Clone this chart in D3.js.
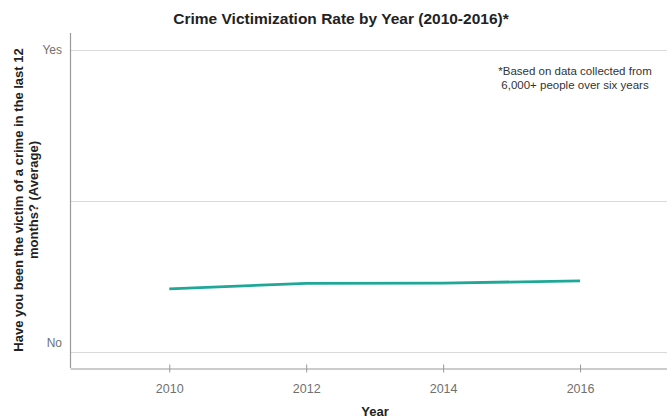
<!DOCTYPE html>
<html>
<head>
<meta charset="utf-8">
<script src="https://cdn.jsdelivr.net/npm/d3@7"></script>
<style>
  body { margin: 0; background: #fff; }
  svg { display: block; font-family: "Liberation Sans", Arial, sans-serif; }
</style>
</head>
<body>
<svg id="chart" width="667" height="418"></svg>
<script>
// data
const years = [2010, 2012, 2014, 2016];
const rates = [0.210, 0.228, 0.229, 0.236];   // 0 = No, 1 = Yes
const yTicks = [0, 0.5, 1];
const yTickLabels = { 0: "No", 1: "Yes" };

const svg = d3.select('#chart');
const W = 667, H = 418;
const m = { top: 33, right: 0, bottom: 50, left: 70 };

const x = d3.scaleLinear()
    .domain([2008.55, 2017.27])
    .range([m.left, W - m.right]);

const y = d3.scaleLinear()
    .domain([-0.052, 1.056])
    .range([H - m.bottom, m.top]);

// gridlines
svg.append('g')
    .selectAll('line')
    .data(yTicks)
    .join('line')
    .attr('x1', m.left)
    .attr('x2', W - m.right)
    .attr('y1', d => Math.round(y(d)) + 0.5)
    .attr('y2', d => Math.round(y(d)) + 0.5)
    .attr('stroke', '#d9d9d9')
    .attr('stroke-width', 1.2);

// y tick labels (no tick marks)
svg.append('g')
    .selectAll('text')
    .data(yTicks.filter(d => yTickLabels[d]))
    .join('text')
    .attr('x', m.left - 8)
    .attr('y', d => y(d) + (d === 0 ? -9 : 0))
    .attr('dy', '0.35em')
    .attr('text-anchor', 'end')
    .attr('font-size', 12)
    .attr('fill', '#707070')
    .text(d => yTickLabels[d]);

// left axis line
svg.append('line')
    .attr('x1', m.left + 0.5).attr('x2', m.left + 0.5)
    .attr('y1', m.top).attr('y2', H - m.bottom)
    .attr('stroke', '#999').attr('stroke-width', 1.2);

// x axis
const xAxis = svg.append('g')
    .attr('transform', `translate(0,${H - m.bottom + 0.5})`)
    .call(d3.axisBottom(x).tickValues(years).tickFormat(d3.format('d'))
        .tickSizeOuter(0).tickSizeInner(4).tickPadding(12));
xAxis.select('.domain').attr('stroke', '#999').attr('stroke-width', 1.2);
xAxis.selectAll('.tick line').attr('stroke', '#999').attr('y1', -4);
xAxis.selectAll('.tick text')
    .attr('font-size', 12.5)
    .attr('fill', '#707070')
    .attr('font-family', '"Liberation Sans", Arial, sans-serif');

// the line
const line = d3.line()
    .x((d, i) => x(years[i]))
    .y(d => y(d));

svg.append('path')
    .datum(rates)
    .attr('d', line)
    .attr('fill', 'none')
    .attr('stroke', '#1fa898')
    .attr('stroke-width', 2.8);

// title
svg.append('text')
    .attr('x', 341).attr('y', 24)
    .attr('text-anchor', 'middle')
    .attr('font-size', 15.5)
    .attr('font-weight', 'bold')
    .attr('fill', '#222')
    .text('Crime Victimization Rate by Year (2010-2016)*');

// annotation
const note = svg.append('text')
    .attr('text-anchor', 'middle')
    .attr('font-size', 11.5)
    .attr('fill', '#333');
note.append('tspan').attr('x', 575).attr('y', 75).text('*Based on data collected from');
note.append('tspan').attr('x', 575).attr('y', 89).text('6,000+ people over six years');

// axis titles
svg.append('text')
    .attr('x', 375).attr('y', 416)
    .attr('text-anchor', 'middle')
    .attr('font-size', 13)
    .attr('font-weight', 'bold')
    .attr('fill', '#222')
    .text('Year');

const yTitle = svg.append('text')
    .attr('transform', 'translate(0,200) rotate(-90)')
    .attr('text-anchor', 'middle')
    .attr('font-size', 13)
    .attr('font-weight', 'bold')
    .attr('fill', '#222');
yTitle.append('tspan').attr('x', 0).attr('y', 23).text('Have you been the victim of a crime in the last 12');
yTitle.append('tspan').attr('x', 0).attr('y', 38).text('months? (Average)');
</script>
</body>
</html>
